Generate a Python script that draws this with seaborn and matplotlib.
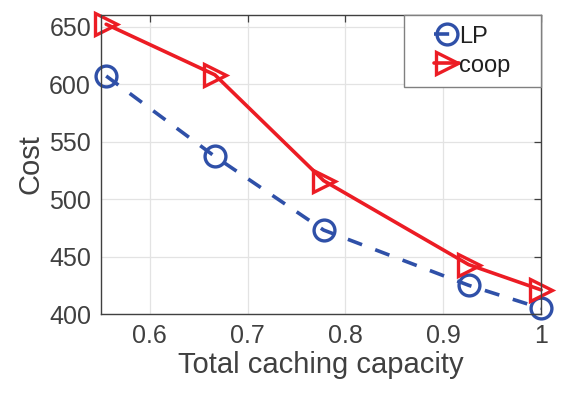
import matplotlib
matplotlib.use("Agg")
import matplotlib.pyplot as plt
from matplotlib.legend_handler import HandlerLine2D
import seaborn as sns
import numpy as np

sns.set_style("white")
plt.rcParams['font.family'] = ['Liberation Sans', 'DejaVu Sans']

# data
capacity = [5/9, 6/9, 7/9, 25/27, 1.0]
cost_lp = [607, 537, 473, 425, 405]
cost_coop = [652, 608, 516, 443, 421]
series_names = ['LP', 'coop']

blue = '#2F50A8'
red = '#EC1C24'
grey = '#404040'


class RightHandler(HandlerLine2D):
    # draw the legend sample on the right part of the handle box only (matlab look)
    def get_xdata(self, legend, xdescent, ydescent, width, height, fontsize):
        x0 = -xdescent + 0.44 * width
        x1 = -xdescent + width
        return np.array([x0, x1]), np.array([(x0 + x1) / 2])


fig = plt.figure(figsize=(5.66, 3.96), dpi=100)
ax = fig.add_axes([0.178, 0.207, 0.778, 0.755])

sns.lineplot(x=capacity, y=cost_lp, ax=ax, color=blue, linewidth=2.6,
             linestyle=(0, (4.2, 3.9)), marker='o', markersize=15,
             markerfacecolor='none', markeredgecolor=blue, markeredgewidth=2.4,
             label=series_names[0], clip_on=False)
sns.lineplot(x=capacity, y=cost_coop, ax=ax, color=red, linewidth=2.6,
             marker='>', markersize=16, markerfacecolor='none',
             markeredgecolor=red, markeredgewidth=2.4,
             label=series_names[1] + '   ', clip_on=False)

ax.set_xlim(0.55, 1.0)
ax.set_ylim(400, 660)
ax.set_xticks([0.6, 0.7, 0.8, 0.9, 1.0])
ax.set_xticklabels(['0.6', '0.7', '0.8', '0.9', '1'])
ax.set_yticks([400, 450, 500, 550, 600, 650])

ax.grid(True, color='#E3E3E3', linewidth=0.9)
ax.set_axisbelow(True)
for s in ax.spines.values():
    s.set_color(grey)
    s.set_linewidth(1.0)
ax.tick_params(direction='in', length=5, width=0.9, colors=grey,
               labelsize=18, top=True, right=True, pad=7)

ax.set_xlabel('Total caching capacity', fontsize=21, color=grey, labelpad=2)
ax.set_ylabel('Cost', fontsize=21, color=grey, labelpad=3)

leg = ax.legend(loc='upper right', borderaxespad=0, fontsize=17,
                handlelength=1.9, handletextpad=0.0, frameon=True,
                fancybox=False, edgecolor='#808080', framealpha=1,
                borderpad=0.45, labelspacing=0.3,
                handler_map={matplotlib.lines.Line2D: RightHandler()})
leg.get_frame().set_linewidth(1.0)
for t in leg.get_texts():
    t.set_color('#202020')

fig.savefig('out.png', dpi=100)
